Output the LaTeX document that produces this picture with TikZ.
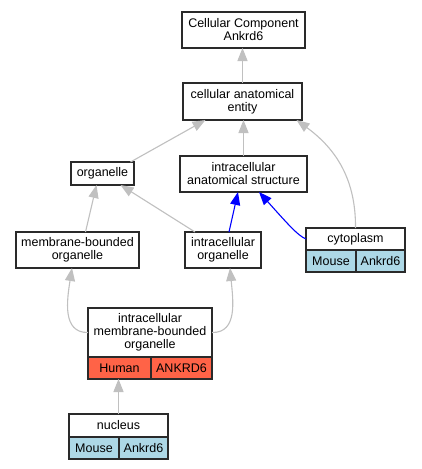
\documentclass[tikz,border=0pt]{standalone}
\usepackage{fontspec}
\setmainfont{Liberation Sans}
\usetikzlibrary{arrows.meta,calc}
\definecolor{edgegray}{HTML}{C0C0C0}
\definecolor{tomatoc}{HTML}{FF6347}
\definecolor{lblue}{HTML}{ADD8E6}
\definecolor{bord}{HTML}{2A2A2A}
\begin{document}
\begin{tikzpicture}[x=1pt,y=-1pt,
  every node/.style={font=\fontsize{12.5}{13}\selectfont, align=center, inner sep=0pt, outer sep=0pt},
  box/.style={draw=bord, line width=1.2pt, fill=white},
  hbox/.style={box, fill=tomatoc},
  mbox/.style={box, fill=lblue},
  gedge/.style={draw=edgegray, line width=1.1pt, -{Triangle[length=13pt,width=10pt]}, edgegray},
  bedge/.style={draw=blue, line width=1.1pt, -{Triangle[length=13pt,width=10pt]}, blue}]
\useasboundingbox (0,0) rectangle (421,469);
\fill[white] (0,0) rectangle (421,469);

% nodes
\node[box, minimum width=123pt, minimum height=36pt] (cc) at (243.5,30) {Cellular Component\\Ankrd6};
\node[box, minimum width=119pt, minimum height=37pt] (cae) at (242.5,101.5) {cellular anatomical\\entity};
\node[box, minimum width=63pt, minimum height=23pt] (org) at (102.5,173.5) {organelle};
\node[box, minimum width=127pt, minimum height=36pt] (ias) at (243.5,174) {intracellular\\anatomical structure};
\node[box, minimum width=123pt, minimum height=36pt] (mbo) at (77.5,250) {membrane-bounded\\organelle};
\node[box, minimum width=76pt, minimum height=36pt] (io) at (223,250) {intracellular\\organelle};

% cytoplasm record
\node[box, minimum width=99pt, minimum height=22pt] (cytoT) at (355.5,239) {cytoplasm};
\node[mbox, minimum width=50pt, minimum height=22pt] (cytoL) at (331,261) {Mouse};
\node[mbox, minimum width=49pt, minimum height=22pt] (cytoR) at (380.5,261) {Ankrd6};

% intracellular membrane-bounded organelle record
\node[box, minimum width=124pt, minimum height=49pt] (imboT) at (150,332.5) {intracellular\\membrane-bounded\\organelle};
\node[hbox, minimum width=63pt, minimum height=22pt] (imboL) at (119.5,368) {Human};
\node[hbox, minimum width=61pt, minimum height=22pt] (imboR) at (181.5,368) {ANKRD6};

% nucleus record
\node[box, minimum width=99pt, minimum height=23pt] (nucT) at (118.5,425.5) {nucleus};
\node[mbox, minimum width=50pt, minimum height=22pt] (nucL) at (94,448) {Mouse};
\node[mbox, minimum width=49pt, minimum height=22pt] (nucR) at (143.5,448) {Ankrd6};

% edges
\draw[gedge] (cae.north) -- (cae.north |- cc.south);
\draw[gedge] ([xshift=28pt]org.north) -- ([xshift=-37pt]cae.south);
\draw[gedge] (ias.north) -- (ias.north |- cae.south);
\draw[gedge] (cytoT.north) .. controls (356,175) and (332,146) .. ([xshift=54pt]cae.south);
\draw[gedge] ([xshift=8pt]mbo.north) -- ([xshift=-6pt]org.south);
\draw[gedge] ([xshift=-28pt]io.north) -- ([xshift=18pt]org.south);
\draw[bedge] ([xshift=6pt]io.north) -- ([xshift=-5.5pt]ias.south);
\draw[bedge] (cytoT.west) .. controls (298,236) and (286,222) .. ([xshift=15.5pt]ias.south);
\draw[gedge] (imboT.west) .. controls (62,333) and (67,300) .. ([xshift=-5.5pt]mbo.south);
\draw[gedge] (imboT.east) .. controls (238,333) and (233,300) .. ([xshift=7pt]io.south);
\draw[gedge] (nucT.north) -- (nucT.north |- imboL.south);
\end{tikzpicture}
\end{document}
